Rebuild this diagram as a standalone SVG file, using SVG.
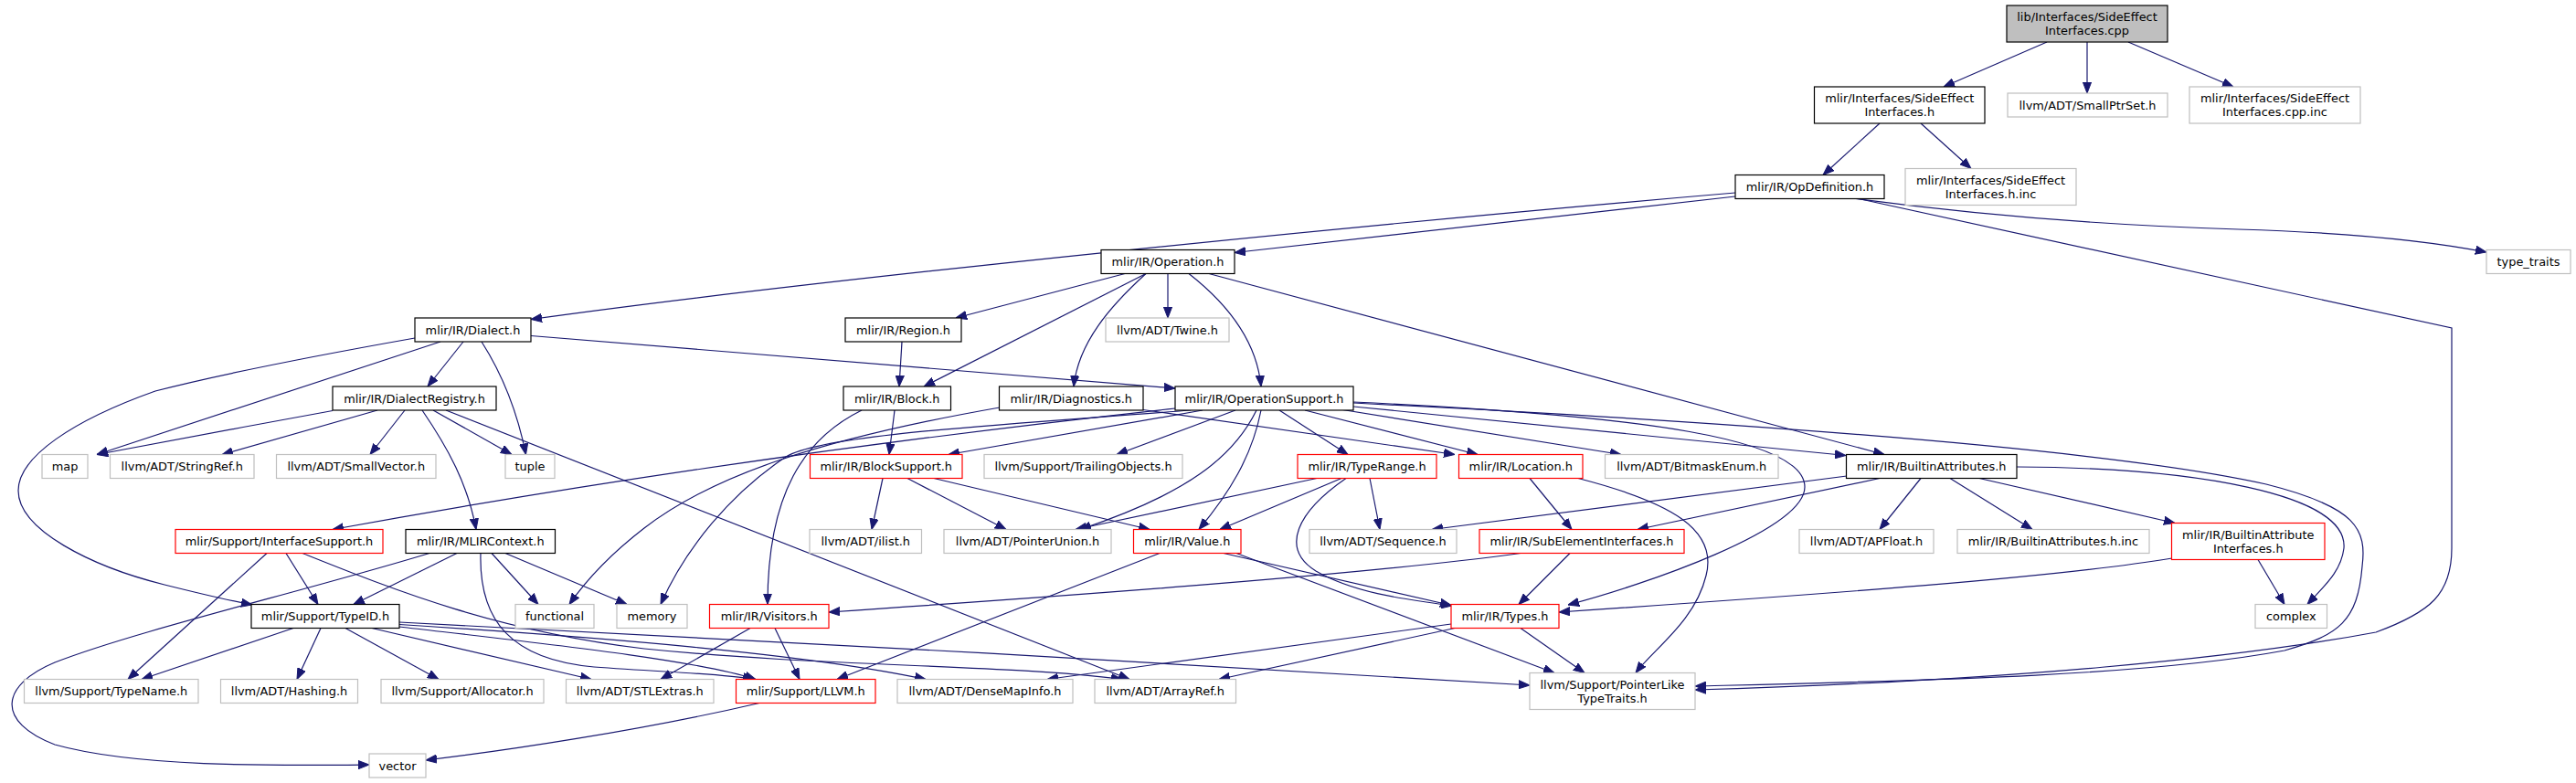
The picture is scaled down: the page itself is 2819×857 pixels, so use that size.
<svg xmlns="http://www.w3.org/2000/svg" width="2819" height="857" viewBox="0 0 2819 857">
<defs>
<style>
.node rect{fill:#fff;stroke:#000;stroke-width:1.2}
.node.g rect{stroke:#bfbfbf}
.node.r rect{stroke:#ff0000}
.node.t rect{fill:#bfbfbf;stroke:#000}
text{font-family:"DejaVu Sans","Noto Sans",sans-serif;font-size:12.9px;text-anchor:middle;fill:#000}
#edges path{fill:none;stroke:#191970;stroke-width:1.2;marker-end:url(#a)}
</style>
<marker id="a" viewBox="0 0 12 10" refX="12" refY="5" markerWidth="12" markerHeight="10" markerUnits="userSpaceOnUse" orient="auto"><path d="M0,0.4 L12,5 L0,9.6 z" fill="#191970" stroke="#191970" stroke-width="1"/></marker>
</defs>
<rect width="2819" height="857" fill="#fff"/>
<g id="edges">
<path d="M2240,46 L2127,95"/>
<path d="M2284,46 L2284,102"/>
<path d="M2329,46 L2444,95"/>
<path d="M2057,135 L1995,191.5"/>
<path d="M2102,135 L2157,184.5"/>
<path d="M1899,215 L1351,276.5"/>
<path d="M1899,211 C1500,245 900,305 581,349.5"/>
<path d="M2031,217.5 C2200,240 2350,248 2450,251 C2550,254 2650,262 2721,276"/>
<path d="M2034,217.5 L2683,359 L2683,600 C2683,650 2660,670 2600,692 C2450,720 2200,745 1855,755"/>
<path d="M1231,299.5 L1046,348"/>
<path d="M1254,299.5 L1011,423"/>
<path d="M1254,299.5 C1215,335 1180,375 1175,423"/>
<path d="M1278,299.5 L1278,348"/>
<path d="M1301,299.5 C1340,330 1375,370 1380,423"/>
<path d="M1323,299.5 L2062,497.5"/>
<path d="M507,374 L468,423"/>
<path d="M482,374 L106,497.5"/>
<path d="M454,370 C330,392 240,410 170,428 C80,460 20,500 20,537 C20,580 100,620 180,640 C220,650 250,657 276,662"/>
<path d="M527,374 C550,410 566,450 575.5,497.5"/>
<path d="M581,367.5 L1286,425"/>
<path d="M364,449.5 C280,465 170,485 106,497.5"/>
<path d="M413,449 L243,497.5"/>
<path d="M443,449 L405,497.5"/>
<path d="M462,449 C490,490 512,530 521,579.5"/>
<path d="M474,449 L560,497.5"/>
<path d="M488,449 L1236,743.5"/>
<path d="M1286,447 Q800,500 364,579.5"/>
<path d="M1094,446 C900,480 780,520 705,578 C670,605 645,630 623,661.5"/>
<path d="M1303,449 C1100,465 900,475 860,500 C800,540 750,600 723,661.5"/>
<path d="M1316,449 L1038,497.5"/>
<path d="M1352,449 L1222,497.5"/>
<path d="M1375,449 C1350,500 1300,540 1182,579.5"/>
<path d="M1380,449 C1370,500 1345,540 1312,579.5"/>
<path d="M1400,449 L1475,497.5"/>
<path d="M1428,449 L1617,497.5"/>
<path d="M1460,447 L1774,497.5"/>
<path d="M1481,445 L2020,498.5"/>
<path d="M1481,440 C1800,455 1975,480 1975,533 C1975,580 1800,640 1716,662"/>
<path d="M1481,441 C1900,462 2300,490 2480,530 C2580,555 2590,580 2585,620 C2580,680 2560,695 2500,712 C2350,740 2100,745 1855,751"/>
<path d="M1251,448.5 L1592,497.5"/>
<path d="M987,374 L984,423"/>
<path d="M979,449 L973,497.5"/>
<path d="M943,449 C880,480 840,540 840,661.5"/>
<path d="M966,523.5 L954,579.5"/>
<path d="M993,523.5 L1101,579.5"/>
<path d="M1022,523.5 L1258,579.5"/>
<path d="M1441,523.5 L1177,579.5"/>
<path d="M1468,523.5 L1335,579.5"/>
<path d="M1499,523.5 L1510,579.5"/>
<path d="M1473,523.5 C1420,560 1400,600 1440,625 C1480,648 1530,655 1589,663"/>
<path d="M1674,523.5 L1720,579.5"/>
<path d="M1727,523.5 C1830,550 1880,580 1867,630 C1855,680 1810,710 1790,736.5"/>
<path d="M2021,521 L1567,579.5"/>
<path d="M2057,523.5 L1792,579.5"/>
<path d="M2102,523.5 L2057,579.5"/>
<path d="M2134,523.5 L2224,579.5"/>
<path d="M2166,523.5 L2380,572.5"/>
<path d="M2207,511 C2400,512 2570,540 2565,600 C2562,625 2545,640 2525,661.5"/>
<path d="M2471,612.5 L2500,661.5"/>
<path d="M2377,611 C2250,632 2000,650 1706,670"/>
<path d="M1718,605.5 L1662,661.5"/>
<path d="M1664,605.5 C1500,628 1200,650 907,670"/>
<path d="M1339,605.5 L1588,662.5"/>
<path d="M1353,605.5 L1701,736.5"/>
<path d="M1269,605.5 L916,743.5"/>
<path d="M1588,683 L1146,743.5"/>
<path d="M1592,687.5 L1334,743.5"/>
<path d="M1664,687.5 L1734,736.5"/>
<path d="M821,687.5 L723,743.5"/>
<path d="M848,687.5 L875,743.5"/>
<path d="M831,769.5 C700,800 550,822 466,832"/>
<path d="M321,687.5 L155,743.5"/>
<path d="M351,687.5 L325,743.5"/>
<path d="M378,687.5 L480,743.5"/>
<path d="M407,687.5 L647,743.5"/>
<path d="M437,681 C800,698 1300,727 1674,750"/>
<path d="M437,683.5 C650,697 880,715 1013,743.5"/>
<path d="M437,686 C600,705 760,722 827,743.5"/>
<path d="M292,605.5 L140,743.5"/>
<path d="M313,605.5 L348,661.5"/>
<path d="M331,605.5 C430,645 540,690 705,710 C900,730 1100,727 1228,743.5"/>
<path d="M526,605.5 C524,680 560,722 650,730 C730,736 790,737 825,743.5"/>
<path d="M500,605.5 L387,661.5"/>
<path d="M538,605.5 L589,661.5"/>
<path d="M553,605.5 L686,661.5"/>
<path d="M470,605.5 C330,648 150,690 60,725 C0,750 -5,790 60,815 C150,840 300,838 404,837"/>
</g>
<g id="n_cpp" class="node t"><rect x="2196" y="6" width="176" height="40"/><text x="2284" y="23">lib/Interfaces/SideEffect</text><text x="2284" y="38">Interfaces.cpp</text></g>
<g id="n_sei_h" class="node"><rect x="1985.5" y="95" width="186.5" height="40"/><text x="2078.75" y="112">mlir/Interfaces/SideEffect</text><text x="2078.75" y="127">Interfaces.h</text></g>
<g id="n_smallptrset" class="node g"><rect x="2197" y="102" width="175" height="26"/><text x="2284.5" y="119.6">llvm/ADT/SmallPtrSet.h</text></g>
<g id="n_cpp_inc" class="node g"><rect x="2396" y="95" width="187" height="40"/><text x="2489.5" y="112">mlir/Interfaces/SideEffect</text><text x="2489.5" y="127">Interfaces.cpp.inc</text></g>
<g id="n_opdef" class="node"><rect x="1899" y="191.5" width="163" height="26"/><text x="1980.5" y="209.1">mlir/IR/OpDefinition.h</text></g>
<g id="n_h_inc" class="node g"><rect x="2085" y="184.5" width="187" height="40"/><text x="2178.5" y="201.5">mlir/Interfaces/SideEffect</text><text x="2178.5" y="216.5">Interfaces.h.inc</text></g>
<g id="n_operation" class="node"><rect x="1205" y="273.5" width="146" height="26"/><text x="1278" y="291.1">mlir/IR/Operation.h</text></g>
<g id="n_type_traits" class="node g"><rect x="2721" y="273.5" width="92" height="26"/><text x="2767" y="291.1">type_traits</text></g>
<g id="n_dialect" class="node"><rect x="454" y="348" width="127" height="26"/><text x="517.5" y="365.6">mlir/IR/Dialect.h</text></g>
<g id="n_region" class="node"><rect x="925" y="348" width="127" height="26"/><text x="988.5" y="365.6">mlir/IR/Region.h</text></g>
<g id="n_twine" class="node g"><rect x="1210" y="348" width="135" height="26"/><text x="1277.5" y="365.6">llvm/ADT/Twine.h</text></g>
<g id="n_dialectregistry" class="node"><rect x="364" y="423" width="179" height="26"/><text x="453.5" y="440.6">mlir/IR/DialectRegistry.h</text></g>
<g id="n_block" class="node"><rect x="923" y="423" width="117.5" height="26"/><text x="981.75" y="440.6">mlir/IR/Block.h</text></g>
<g id="n_diagnostics" class="node"><rect x="1093.5" y="423" width="157.5" height="26"/><text x="1172.25" y="440.6">mlir/IR/Diagnostics.h</text></g>
<g id="n_opsupport" class="node"><rect x="1286" y="423" width="195" height="26"/><text x="1383.5" y="440.6">mlir/IR/OperationSupport.h</text></g>
<g id="n_map" class="node g"><rect x="46" y="497.5" width="50" height="26"/><text x="71" y="515.1">map</text></g>
<g id="n_stringref" class="node g"><rect x="120.5" y="497.5" width="157.5" height="26"/><text x="199.25" y="515.1">llvm/ADT/StringRef.h</text></g>
<g id="n_smallvector" class="node g"><rect x="302.5" y="497.5" width="174.5" height="26"/><text x="389.75" y="515.1">llvm/ADT/SmallVector.h</text></g>
<g id="n_tuple" class="node g"><rect x="553" y="497.5" width="54" height="26"/><text x="580" y="515.1">tuple</text></g>
<g id="n_blocksupport" class="node r"><rect x="886.5" y="497.5" width="166.5" height="26"/><text x="969.75" y="515.1">mlir/IR/BlockSupport.h</text></g>
<g id="n_trailingobjects" class="node g"><rect x="1077" y="497.5" width="217" height="26"/><text x="1185.5" y="515.1">llvm/Support/TrailingObjects.h</text></g>
<g id="n_typerange" class="node r"><rect x="1420" y="497.5" width="152" height="26"/><text x="1496" y="515.1">mlir/IR/TypeRange.h</text></g>
<g id="n_location" class="node r"><rect x="1596.5" y="497.5" width="135.5" height="26"/><text x="1664.25" y="515.1">mlir/IR/Location.h</text></g>
<g id="n_bitmaskenum" class="node g"><rect x="1756.5" y="497.5" width="189.5" height="26"/><text x="1851.25" y="515.1">llvm/ADT/BitmaskEnum.h</text></g>
<g id="n_builtinattributes" class="node"><rect x="2020.5" y="497.5" width="186.5" height="26"/><text x="2113.75" y="515.1">mlir/IR/BuiltinAttributes.h</text></g>
<g id="n_interfacesupport" class="node r"><rect x="192" y="579.5" width="227" height="26"/><text x="305.5" y="597.1">mlir/Support/InterfaceSupport.h</text></g>
<g id="n_mlircontext" class="node"><rect x="444" y="579.5" width="163.5" height="26"/><text x="525.75" y="597.1">mlir/IR/MLIRContext.h</text></g>
<g id="n_ilist" class="node g"><rect x="886" y="579.5" width="122.5" height="26"/><text x="947.25" y="597.1">llvm/ADT/ilist.h</text></g>
<g id="n_pointerunion" class="node g"><rect x="1033" y="579.5" width="183" height="26"/><text x="1124.5" y="597.1">llvm/ADT/PointerUnion.h</text></g>
<g id="n_value" class="node r"><rect x="1240.5" y="579.5" width="117.5" height="26"/><text x="1299.25" y="597.1">mlir/IR/Value.h</text></g>
<g id="n_sequence" class="node g"><rect x="1433" y="579.5" width="161" height="26"/><text x="1513.5" y="597.1">llvm/ADT/Sequence.h</text></g>
<g id="n_subelement" class="node r"><rect x="1619" y="579.5" width="224" height="26"/><text x="1731" y="597.1">mlir/IR/SubElementInterfaces.h</text></g>
<g id="n_apfloat" class="node g"><rect x="1969" y="579.5" width="147" height="26"/><text x="2042.5" y="597.1">llvm/ADT/APFloat.h</text></g>
<g id="n_ba_inc" class="node g"><rect x="2142" y="579.5" width="210" height="26"/><text x="2247" y="597.1">mlir/IR/BuiltinAttributes.h.inc</text></g>
<g id="n_bai" class="node r"><rect x="2376.5" y="572.5" width="167.5" height="40"/><text x="2460.25" y="589.5">mlir/IR/BuiltinAttribute</text><text x="2460.25" y="604.5">Interfaces.h</text></g>
<g id="n_typeid" class="node"><rect x="275" y="661.5" width="162" height="26"/><text x="356" y="679.1">mlir/Support/TypeID.h</text></g>
<g id="n_functional" class="node g"><rect x="564" y="661.5" width="86" height="26"/><text x="607" y="679.1">functional</text></g>
<g id="n_memory" class="node g"><rect x="675" y="661.5" width="77" height="26"/><text x="713.5" y="679.1">memory</text></g>
<g id="n_visitors" class="node r"><rect x="776.5" y="661.5" width="130.5" height="26"/><text x="841.75" y="679.1">mlir/IR/Visitors.h</text></g>
<g id="n_types" class="node r"><rect x="1588" y="661.5" width="118" height="26"/><text x="1647" y="679.1">mlir/IR/Types.h</text></g>
<g id="n_complex" class="node g"><rect x="2468" y="661.5" width="78.5" height="26"/><text x="2507.25" y="679.1">complex</text></g>
<g id="n_typename" class="node g"><rect x="26.5" y="743.5" width="190.5" height="26"/><text x="121.75" y="761.1">llvm/Support/TypeName.h</text></g>
<g id="n_hashing" class="node g"><rect x="241.5" y="743.5" width="150" height="26"/><text x="316.5" y="761.1">llvm/ADT/Hashing.h</text></g>
<g id="n_allocator" class="node g"><rect x="417" y="743.5" width="178" height="26"/><text x="506" y="761.1">llvm/Support/Allocator.h</text></g>
<g id="n_stlextras" class="node g"><rect x="619.5" y="743.5" width="161.5" height="26"/><text x="700.25" y="761.1">llvm/ADT/STLExtras.h</text></g>
<g id="n_llvm" class="node r"><rect x="805.5" y="743.5" width="152.5" height="26"/><text x="881.75" y="761.1">mlir/Support/LLVM.h</text></g>
<g id="n_densemapinfo" class="node g"><rect x="982" y="743.5" width="192" height="26"/><text x="1078" y="761.1">llvm/ADT/DenseMapInfo.h</text></g>
<g id="n_arrayref" class="node g"><rect x="1198" y="743.5" width="154.5" height="26"/><text x="1275.25" y="761.1">llvm/ADT/ArrayRef.h</text></g>
<g id="n_pointerlike" class="node g"><rect x="1674" y="736.5" width="181" height="40"/><text x="1764.5" y="753.5">llvm/Support/PointerLike</text><text x="1764.5" y="768.5">TypeTraits.h</text></g>
<g id="n_vector" class="node g"><rect x="404" y="825" width="62" height="26"/><text x="435" y="842.6">vector</text></g>
</svg>
